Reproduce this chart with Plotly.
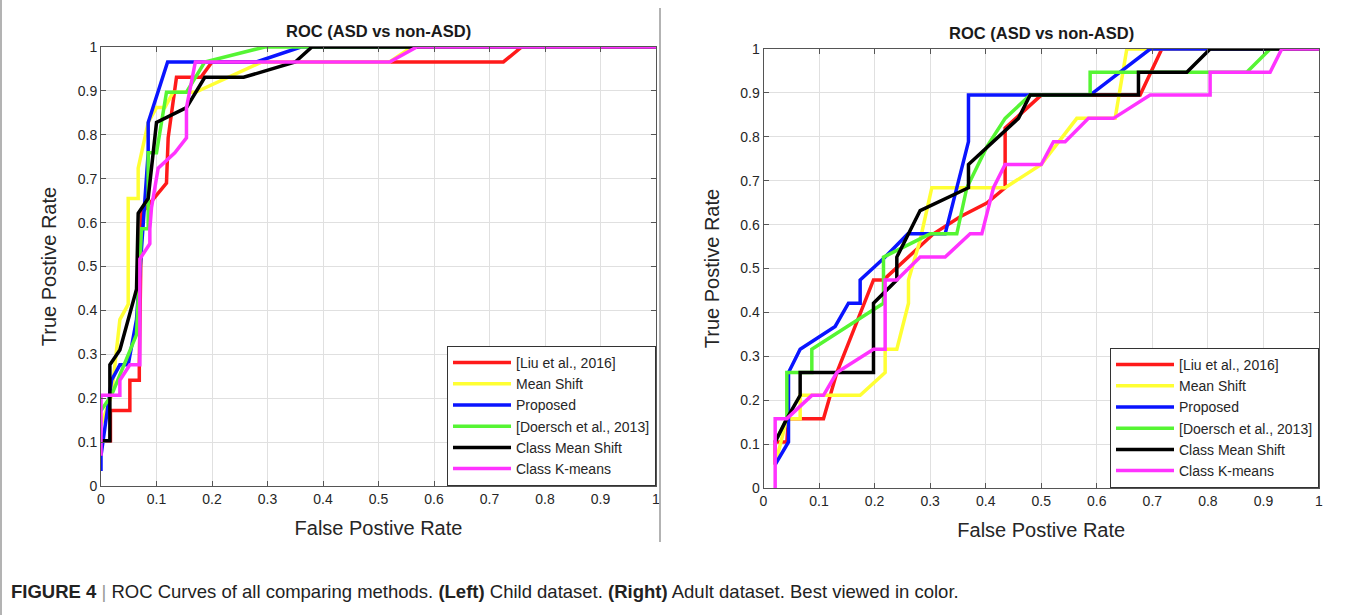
import plotly.graph_objects as go

W, H = 1360, 615

method_names = ["[Liu et al., 2016]", "Mean Shift", "Proposed",
                "[Doersch et al., 2013]", "Class Mean Shift", "Class K-means"]
method_colors = ["#ff1a1a", "#ffff33", "#0a14ff", "#55f533", "#000000", "#ff33ff"]

tick_vals = [0, 0.1, 0.2, 0.3, 0.4, 0.5, 0.6, 0.7, 0.8, 0.9, 1]
tick_text = ["0", "0.1", "0.2", "0.3", "0.4", "0.5", "0.6", "0.7", "0.8", "0.9", "1"]

# ---- Child dataset (left) ----
child_liu_fpr = [0, 0.017, 0.017, 0.052, 0.052, 0.069, 0.069, 0.073, 0.118, 0.121, 0.136, 0.18, 0.2, 0.725, 0.758, 1.0]
child_liu_tpr = [0.103, 0.103, 0.172, 0.172, 0.241, 0.241, 0.276, 0.621, 0.69, 0.793, 0.931, 0.931, 0.966, 0.966, 1.0, 1.0]
child_ms_fpr = [0, 0.019, 0.034, 0.049, 0.049, 0.067, 0.067, 0.085, 0.1, 0.115, 0.13, 0.17, 0.29, 0.52, 0.56, 1.0]
child_ms_tpr = [0.138, 0.207, 0.379, 0.414, 0.655, 0.655, 0.724, 0.828, 0.862, 0.862, 0.897, 0.897, 0.966, 0.966, 1.0, 1.0]
child_prop_fpr = [0, 0, 0.019, 0.034, 0.049, 0.064, 0.085, 0.085, 0.12, 0.28, 0.36, 1.0]
child_prop_tpr = [0.034, 0.069, 0.241, 0.276, 0.276, 0.379, 0.759, 0.828, 0.966, 0.966, 1.0, 1.0]
child_doer_fpr = [0, 0.019, 0.064, 0.073, 0.085, 0.085, 0.1, 0.118, 0.154, 0.187, 0.295, 1.0]
child_doer_tpr = [0.172, 0.207, 0.345, 0.586, 0.586, 0.759, 0.759, 0.897, 0.897, 0.966, 1.0, 1.0]
child_cms_fpr = [0, 0.016, 0.016, 0.034, 0.064, 0.067, 0.067, 0.085, 0.088, 0.1, 0.154, 0.187, 0.257, 0.35, 0.38, 1.0]
child_cms_tpr = [0.103, 0.103, 0.276, 0.31, 0.448, 0.586, 0.621, 0.655, 0.69, 0.828, 0.862, 0.931, 0.931, 0.966, 1.0, 1.0]
child_ckm_fpr = [0, 0, 0.034, 0.034, 0.052, 0.07, 0.07, 0.088, 0.088, 0.091, 0.103, 0.133, 0.154, 0.154, 0.17, 0.52, 0.569, 1.0]
child_ckm_tpr = [0.069, 0.207, 0.207, 0.241, 0.276, 0.276, 0.517, 0.552, 0.586, 0.634, 0.724, 0.759, 0.793, 0.862, 0.966, 0.966, 1.0, 1.0]

# ---- Adult dataset (right) ----
adult_liu_fpr = [0.021, 0.021, 0.042, 0.045, 0.108, 0.132, 0.198, 0.216, 0.306, 0.354, 0.402, 0.435, 0.435, 0.5, 0.678, 0.717, 1.0]
adult_liu_tpr = [0.053, 0.105, 0.105, 0.158, 0.158, 0.263, 0.474, 0.474, 0.579, 0.618, 0.649, 0.684, 0.82, 0.895, 0.895, 1.0, 1.0]
adult_ms_fpr = [0.021, 0.042, 0.066, 0.066, 0.174, 0.219, 0.219, 0.24, 0.261, 0.261, 0.282, 0.303, 0.435, 0.5, 0.564, 0.633, 0.654, 1.0]
adult_ms_tpr = [0.053, 0.158, 0.158, 0.211, 0.211, 0.263, 0.316, 0.316, 0.421, 0.474, 0.565, 0.684, 0.684, 0.737, 0.842, 0.842, 1.0, 1.0]
adult_prop_fpr = [0.021, 0.045, 0.045, 0.066, 0.129, 0.153, 0.174, 0.174, 0.219, 0.26, 0.327, 0.348, 0.369, 0.369, 0.588, 0.696, 1.0]
adult_prop_tpr = [0.053, 0.105, 0.263, 0.316, 0.368, 0.421, 0.421, 0.474, 0.526, 0.579, 0.579, 0.684, 0.789, 0.895, 0.895, 1.0, 1.0]
adult_doer_fpr = [0.021, 0.042, 0.042, 0.087, 0.087, 0.216, 0.216, 0.3, 0.348, 0.366, 0.402, 0.435, 0.48, 0.588, 0.588, 0.87, 0.912, 1.0]
adult_doer_tpr = [0.105, 0.158, 0.263, 0.263, 0.316, 0.421, 0.526, 0.579, 0.579, 0.684, 0.777, 0.842, 0.895, 0.895, 0.947, 0.947, 1.0, 1.0]
adult_cms_fpr = [0.021, 0.042, 0.066, 0.066, 0.198, 0.198, 0.24, 0.24, 0.282, 0.369, 0.369, 0.459, 0.48, 0.675, 0.675, 0.762, 0.804, 1.0]
adult_cms_tpr = [0.105, 0.158, 0.211, 0.263, 0.263, 0.421, 0.474, 0.526, 0.632, 0.684, 0.737, 0.842, 0.895, 0.895, 0.947, 0.947, 1.0, 1.0]
adult_ckm_fpr = [0.021, 0.021, 0.042, 0.087, 0.108, 0.132, 0.198, 0.219, 0.219, 0.24, 0.282, 0.327, 0.372, 0.393, 0.414, 0.435, 0.5, 0.522, 0.543, 0.585, 0.63, 0.696, 0.804, 0.804, 0.912, 0.933, 1.0]
adult_ckm_tpr = [0.0, 0.158, 0.158, 0.211, 0.211, 0.263, 0.316, 0.316, 0.474, 0.474, 0.526, 0.526, 0.579, 0.579, 0.684, 0.737, 0.737, 0.789, 0.789, 0.842, 0.842, 0.895, 0.895, 0.947, 0.947, 1.0, 1.0]

child_series = [(child_liu_fpr, child_liu_tpr), (child_ms_fpr, child_ms_tpr),
                (child_prop_fpr, child_prop_tpr), (child_doer_fpr, child_doer_tpr),
                (child_cms_fpr, child_cms_tpr), (child_ckm_fpr, child_ckm_tpr)]
adult_series = [(adult_liu_fpr, adult_liu_tpr), (adult_ms_fpr, adult_ms_tpr),
                (adult_prop_fpr, adult_prop_tpr), (adult_doer_fpr, adult_doer_tpr),
                (adult_cms_fpr, adult_cms_tpr), (adult_ckm_fpr, adult_ckm_tpr)]

FONT = "Liberation Sans, Arial, Helvetica, sans-serif"
fig = go.Figure()

for (fx, ty), name, col in zip(child_series, method_names, method_colors):
    fig.add_trace(go.Scatter(x=fx, y=ty, mode="lines", name=name,
                             line=dict(color=col, width=3.5),
                             xaxis="x", yaxis="y", legend="legend"))
for (fx, ty), name, col in zip(adult_series, method_names, method_colors):
    fig.add_trace(go.Scatter(x=fx, y=ty, mode="lines", name=name,
                             line=dict(color=col, width=3.5),
                             xaxis="x2", yaxis="y2", legend="legend2"))

def px(v):
    return v / W

def py(v):
    return 1 - v / H

L = dict(x0=101, x1=656, y0=486, y1=47)
R = dict(x0=763.5, x1=1319, y0=488, y1=49)

axis_common = dict(range=[0, 1], tickvals=tick_vals, ticktext=tick_text,
                   automargin=False,
                   showgrid=True, gridcolor="#e0e0e0", gridwidth=1,
                   zeroline=False, showline=True, linecolor="#555555", linewidth=1,
                   mirror="ticks", ticks="inside", ticklen=5, tickcolor="#555555",
                   tickfont=dict(family=FONT, size=14, color="#262626"),
                   fixedrange=True)

xt = dict(text="False Postive Rate", font=dict(size=20, color="#262626"))
yt = dict(text="True Postive Rate", font=dict(size=20, color="#262626"))

legend_common = dict(xanchor="right", yanchor="bottom",
                     bgcolor="white", bordercolor="#333333", borderwidth=1,
                     font=dict(family=FONT, size=14, color="#262626"),
                     tracegroupgap=0, itemwidth=58)

fig.update_layout(
    width=W, height=H,
    margin=dict(l=0, r=0, t=0, b=0),
    paper_bgcolor="white", plot_bgcolor="white",
    font=dict(family=FONT, color="#262626"),
    xaxis=dict(axis_common, domain=[px(L["x0"]), px(L["x1"])], anchor="y", title=xt),
    yaxis=dict(axis_common, domain=[py(L["y0"]), py(L["y1"])], anchor="x", title=yt),
    xaxis2=dict(axis_common, domain=[px(R["x0"]), px(R["x1"])], anchor="y2", title=xt),
    yaxis2=dict(axis_common, domain=[py(R["y0"]), py(R["y1"])], anchor="x2", title=yt),
    legend=dict(legend_common, x=px(L["x1"]), y=py(L["y0"])),
    legend2=dict(legend_common, x=px(R["x1"]), y=py(R["y0"])),
    showlegend=True,
)

# titles
for cx, cy in [((L["x0"] + L["x1"]) / 2, 31), ((R["x0"] + R["x1"]) / 2, 33)]:
    fig.add_annotation(text="<b>ROC (ASD vs non-ASD)</b>", x=px(cx), y=py(cy),
                       xref="paper", yref="paper", showarrow=False,
                       xanchor="center", yanchor="middle",
                       font=dict(family=FONT, size=16.5, color="#1a1a1a"))

# separator between panels
fig.add_shape(type="line", xref="paper", yref="paper",
              x0=px(660), x1=px(660), y0=py(542), y1=py(8),
              line=dict(color="#9a9a9a", width=1.5))
# left border
fig.add_shape(type="line", xref="paper", yref="paper",
              x0=px(1), x1=px(1), y0=0, y1=1,
              line=dict(color="#9a9a9a", width=1.5))

caption = ("<b>FIGURE 4</b> <span style='color:#999999'>|</span> ROC Curves of all comparing methods. "
           "<b>(Left)</b> Child dataset. <b>(Right)</b> Adult dataset. Best viewed in color.")
fig.add_annotation(text=caption, x=px(9), y=py(591), xref="paper", yref="paper",
                   showarrow=False, xanchor="left", yanchor="middle",
                   font=dict(family=FONT, size=18.5, color="#222222"))

post = ("var d=document.getElementById('{plot_id}');"
        "d.style.position='fixed';d.style.top='0px';d.style.left='0px';"
        "document.body.style.margin='0';document.body.style.overflow='hidden';"
        "document.documentElement.style.overflow='hidden';")

fig.write_html("out.html", config={"displayModeBar": False}, post_script=post)
